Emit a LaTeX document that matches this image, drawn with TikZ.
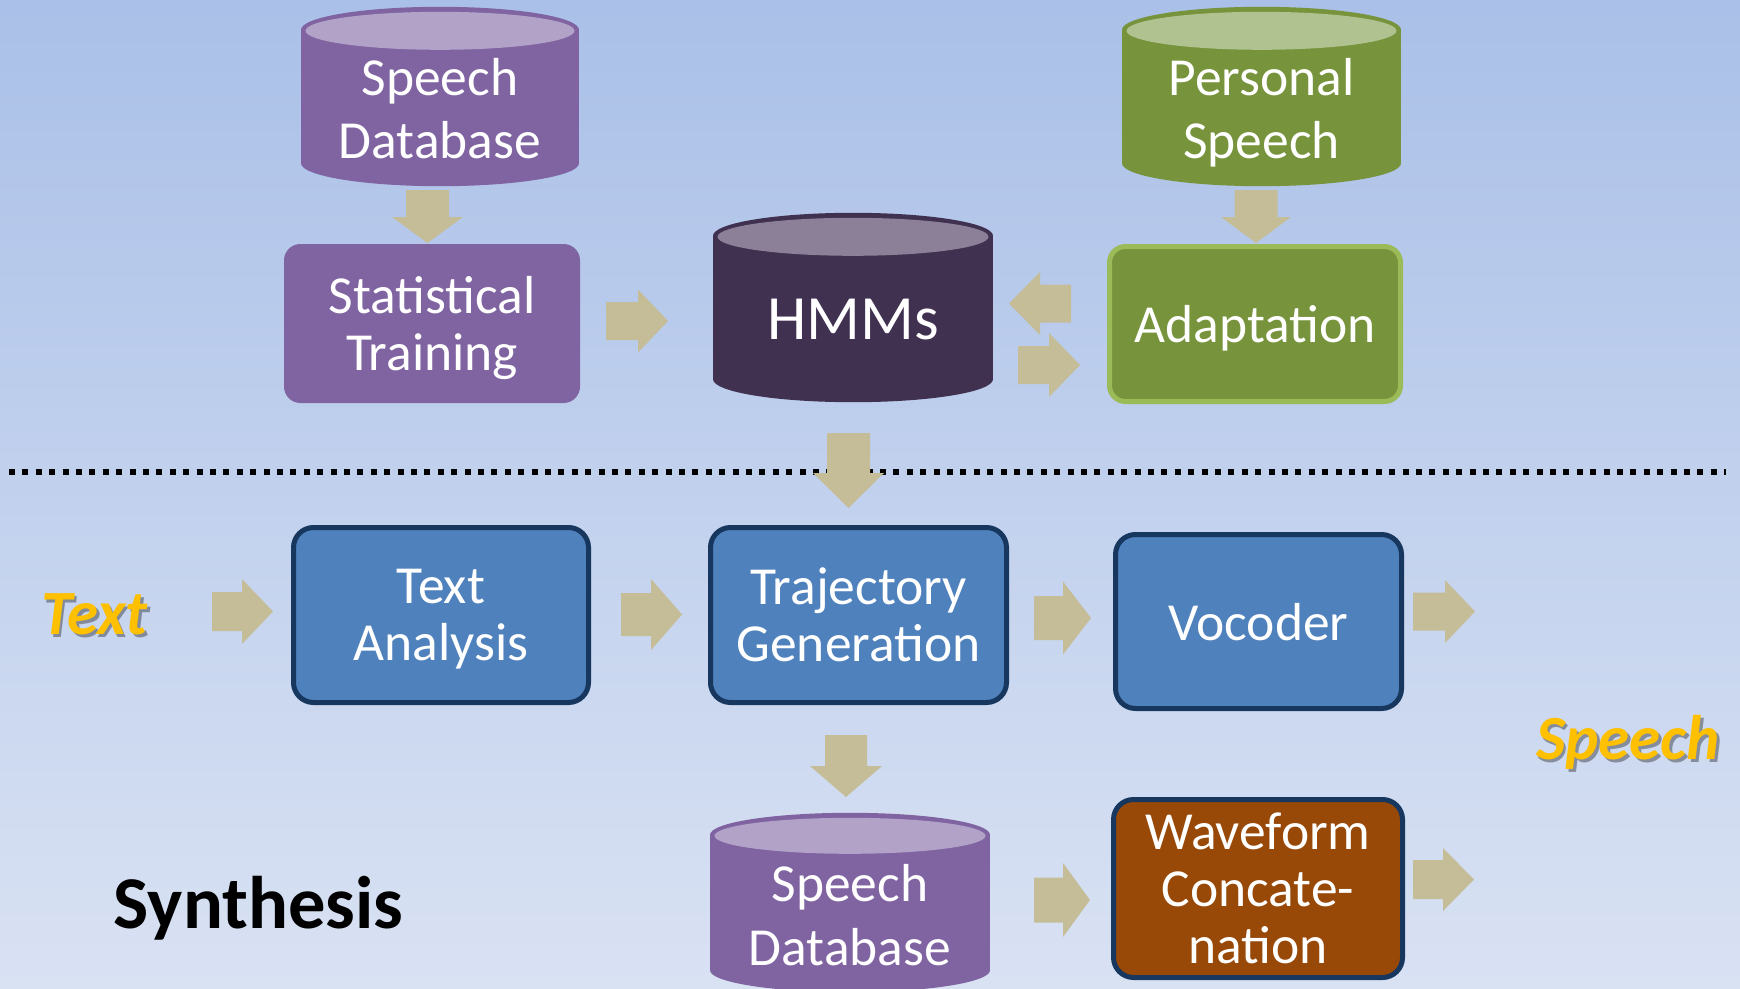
\documentclass[tikz,border=0pt]{standalone}
\usepackage{fontspec}
\setmainfont{Carlito}
\usetikzlibrary{calc}
\pgfdeclarelayer{back}
\pgfdeclarelayer{mid}
\pgfsetlayers{back,mid,main}

\definecolor{bgtop}{HTML}{AAC0E8}
\definecolor{bgbot}{HTML}{D9E2F3}
\definecolor{purp}{HTML}{8064A2}
\definecolor{purptop}{HTML}{B2A2C7}
\definecolor{hmmc}{HTML}{403151}
\definecolor{hmmtop}{HTML}{8B8097}
\definecolor{grn}{HTML}{77933C}
\definecolor{grntop}{HTML}{AFC28F}
\definecolor{grnedge}{HTML}{9BBB59}
\definecolor{blu}{HTML}{4F81BD}
\definecolor{navy}{HTML}{17375E}
\definecolor{rust}{HTML}{984807}
\definecolor{arrowtan}{HTML}{C4BD97}
\definecolor{gold}{HTML}{FFC000}

\tikzset{
  cyltxt/.style={text=white, font=\fontsize{53.5}{63.5}\selectfont, align=center,
    text depth=0pt, inner sep=0pt},
  cylspace/.style={inner sep=0pt, draw=none},
  boxtxt/.style={text=white, font=\fontsize{53.5}{57}\selectfont, align=center,
    text depth=0pt, inner sep=0pt},
  purplebox/.style={boxtxt, fill=purp, draw=purp, line width=1pt, rounded corners=16pt},
  greenbox/.style={boxtxt, fill=grn, draw=grnedge, line width=5pt, rounded corners=16pt},
  bluebox/.style={boxtxt, fill=blu, draw=navy, line width=5pt, rounded corners=20pt},
  rustbox/.style={boxtxt, fill=rust, draw=navy, line width=5pt, rounded corners=20pt},
  goldlbl/.style={text=gold, font=\bfseries\itshape\fontsize{63}{63}\selectfont,
    inner sep=0pt, text depth=0pt},
  shadowlbl/.style={goldlbl, text=black, opacity=0.35},
  arrowfill/.style={fill=arrowtan},
}

% cylinder body behind a sized node: node, rx, ry, body colour, top colour, inner rx, inner ry
\newcommand\drawcyl[7]{%
  \begin{pgfonlayer}{mid}
    \fill[#4] ($(#1.north west)+(0,#3)$) rectangle ($(#1.south east)+(0,-#3)$);
    \fill[#4] ($(#1.south)+(0,-#3)$) ellipse [x radius=#2, y radius=#3];
    \fill[#4] ($(#1.north)+(0,#3)$) ellipse [x radius=#2, y radius=#3];
    \fill[#5] ($(#1.north)+(0,#3)+(0,1)$) ellipse [x radius=#6, y radius=#7];
  \end{pgfonlayer}}

% block arrow: name, cx, cy, angle, length, head length, head width, shaft width
\newcommand\blockarrow[8]{%
  \coordinate (#1) at (#2,#3);
  \fill[arrowfill, shift={(#1)}, rotate=#4]
    ({-#5/2},{-#8/2}) -- ({#5/2-#6},{-#8/2}) -- ({#5/2-#6},{-#7/2}) -- ({#5/2},0)
    -- ({#5/2-#6},{#7/2}) -- ({#5/2-#6},{#8/2}) -- ({-#5/2},{#8/2}) -- cycle;}

\begin{document}
\begin{tikzpicture}[x=1pt, y=-1pt]
\useasboundingbox (0,0) rectangle (1740,988);
\begin{pgfonlayer}{back}
  \fill[top color=bgtop, bottom color=bgbot] (0,0) rectangle (1740,988);
\end{pgfonlayer}

% ---- training part ----
\node[cylspace, minimum width=278pt, minimum height=179pt] (sdb) at (440,96.5) {};
\drawcyl{sdb}{139}{23}{purp}{purptop}{134.5}{19}
\node[cyltxt] (sdbt) at (440,108.5) {Speech\\Database};

\node[cylspace, minimum width=279pt, minimum height=179pt] (pers) at (1261.5,96.5) {};
\drawcyl{pers}{139.5}{23}{grn}{grntop}{135}{19}
\node[cyltxt] (perst) at (1261.5,108.5) {Personal\\Speech};

\node[cylspace, minimum width=280pt, minimum height=189pt] (hmm) at (853,307.5) {};
\drawcyl{hmm}{140}{23}{hmmc}{hmmtop}{135.5}{19}
\node[cyltxt, font=\fontsize{63}{63}\selectfont] (hmmt) at (853,319) {HMMs};

\node[purplebox, minimum width=295pt, minimum height=158pt] (stat) at (432,323.5)
  {Statistical\\Training};
\node[greenbox, minimum width=291pt, minimum height=155pt] (adapt) at (1255,324)
  {Adaptation};

\blockarrow{a1}{427.5}{216.5}{-90}{53}{26}{71}{43}
\blockarrow{a5}{1256}{216.5}{-90}{53}{26}{70}{43}
\blockarrow{a2}{637}{321}{0}{62}{30}{63}{38}
\blockarrow{a3}{1040}{303.5}{180}{62}{31}{63}{38}
\blockarrow{a4}{1049}{365}{0}{62}{31}{64}{38}

% ---- separator ----
\coordinate (sepL) at (9,472);
\coordinate (sepR) at (1726,472);
\draw[line width=6pt, dash pattern=on 6pt off 7.4pt] (sepL) -- (sepR);

\blockarrow{a6}{848.5}{470.5}{-90}{75}{35}{71}{43}

% ---- synthesis part ----
\node[shadowlbl] (textsh) at (97,617) {Text};
\node[goldlbl] (textlbl) at (94.5,614) {Text};

\node[bluebox, minimum width=295pt, minimum height=175pt] (ta) at (441,615)
  {Text\\Analysis};
\node[bluebox, minimum width=296pt, minimum height=175pt] (tg) at (858.5,615)
  {Trajectory\\Generation};
\node[bluebox, minimum width=286pt, minimum height=174pt] (voc) at (1258.5,621.5)
  {Vocoder};

\blockarrow{a7}{242.5}{611.5}{0}{61}{31}{65}{39}
\blockarrow{a8}{651.5}{614.5}{0}{61}{31}{71}{43}
\blockarrow{a9}{1062.5}{618}{0}{57}{28}{73}{44}
\blockarrow{a10}{1444}{611.5}{0}{62}{30}{63}{38}

\node[shadowlbl] (speechsh) at (1630.5,740) {Speech};
\node[goldlbl] (speechlbl) at (1628,737) {Speech};

\blockarrow{a11}{846}{766}{-90}{62}{31}{72}{42}

\node[cylspace, minimum width=280pt, minimum height=179pt] (dbb) at (850,902.5) {};
\drawcyl{dbb}{140}{22}{purp}{purptop}{135.5}{18}
\node[cyltxt] (dbbt) at (850,915) {Speech\\Database};

\node[rustbox, minimum width=289pt, minimum height=178pt] (wc) at (1258,888.5)
  {Waveform\\Concate-\\nation};

\blockarrow{a12}{1062}{900}{0}{56}{27}{74}{45}
\blockarrow{a13}{1443.5}{879.5}{0}{61}{31}{63}{39}

\node[inner sep=0pt, text depth=0pt, font=\bfseries\fontsize{74.5}{74.5}\selectfont]
  (synth) at (258.5,902.5) {Synthesis};
\end{tikzpicture}
\end{document}
